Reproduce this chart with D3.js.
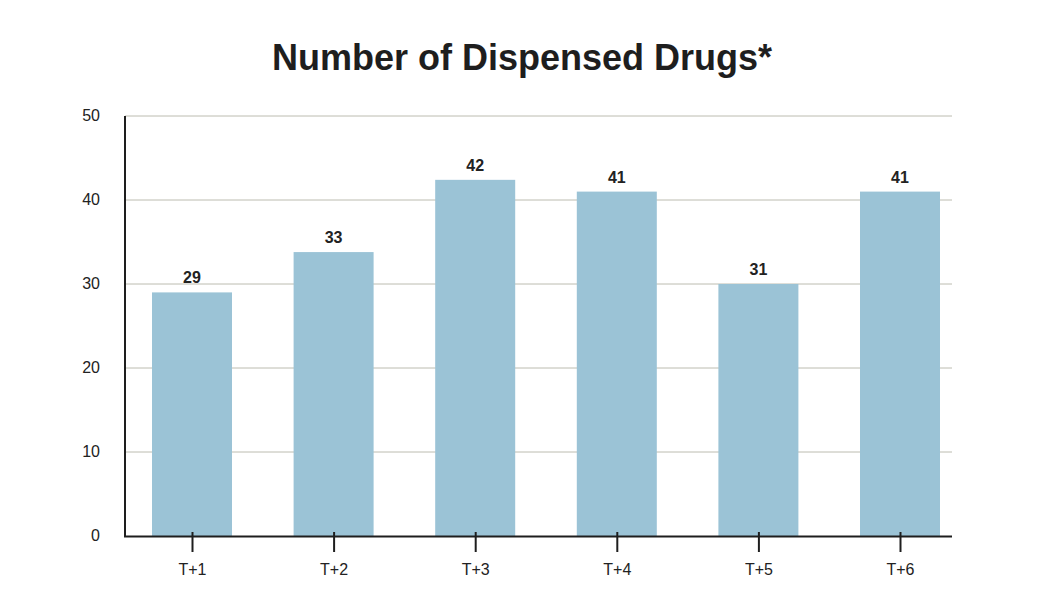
<!DOCTYPE html>
<html>
<head>
<meta charset="utf-8">
<script src="https://cdn.jsdelivr.net/npm/d3@7"></script>
<style>
  body { margin: 0; background: #fff; }
  text { font-family: "Liberation Sans", Arial, sans-serif; fill: #222; }
</style>
</head>
<body>
<div id="container"></div>
<script>
// chart data
var categories = ['T+1', 'T+2', 'T+3', 'T+4', 'T+5', 'T+6'];
var values = [29, 33.8, 42.4, 41, 30, 41];        // bar heights as drawn
var valueLabels = ['29', '33', '42', '41', '31', '41']; // labels printed above bars
var yTicks = [0, 10, 20, 30, 40, 50];

var width = 1048, height = 608;

var svg = d3.select('#container').append('svg')
  .attr('width', width)
  .attr('height', height);

var x = d3.scalePoint()
  .domain(categories)
  .range([192, 900]);

var y = d3.scaleLinear()
  .domain([0, 50])
  .range([536, 116]);

var barWidth = 80;

// title
svg.append('text')
  .attr('x', 522)
  .attr('y', 70)
  .attr('text-anchor', 'middle')
  .style('font-size', '36px')
  .style('font-weight', 'bold')
  .style('fill', '#1e1e1e')
  .text('Number of Dispensed Drugs*');

// gridlines
svg.selectAll('line.grid')
  .data(yTicks.filter(function(d) { return d > 0; }))
  .enter()
  .append('line')
  .attr('class', 'grid')
  .attr('x1', 125)
  .attr('x2', 952)
  .attr('y1', function(d) { return y(d); })
  .attr('y2', function(d) { return y(d); })
  .attr('stroke', '#bcbcb0')
  .attr('stroke-width', 1);

// bars
svg.selectAll('rect.bar')
  .data(values)
  .enter()
  .append('rect')
  .attr('class', 'bar')
  .attr('fill', '#9bc3d6')
  .attr('x', function(d, i) { return x(categories[i]) - barWidth / 2; })
  .attr('y', function(d) { return y(d); })
  .attr('width', barWidth)
  .attr('height', function(d) { return y(0) - y(d); });

// value labels
svg.selectAll('text.val')
  .data(values)
  .enter()
  .append('text')
  .attr('class', 'val')
  .attr('x', function(d, i) { return x(categories[i]); })
  .attr('y', function(d) { return y(d) - 9; })
  .attr('text-anchor', 'middle')
  .style('font-size', '16px')
  .style('font-weight', 'bold')
  .text(function(d, i) { return valueLabels[i]; });

// y axis labels
svg.selectAll('text.ytick')
  .data(yTicks)
  .enter()
  .append('text')
  .attr('class', 'ytick')
  .attr('x', 100)
  .attr('y', function(d) { return y(d) + 5; })
  .attr('text-anchor', 'end')
  .style('font-size', '16px')
  .text(function(d) { return d; });

// x axis
var xAxis = svg.append('g')
  .attr('transform', 'translate(0,536)')
  .call(d3.axisBottom(x).tickSize(16).tickSizeOuter(0).tickPadding(12));
xAxis.select('.domain').remove();
xAxis.selectAll('.tick line')
  .attr('y1', -4)
  .attr('stroke', '#1e1e1e')
  .attr('stroke-width', 2);
xAxis.selectAll('.tick text')
  .style('font-family', '"Liberation Sans", Arial, sans-serif')
  .style('font-size', '16px')
  .attr('fill', '#222');

// axis lines
svg.append('line')
  .attr('x1', 125).attr('x2', 125)
  .attr('y1', 116).attr('y2', 537)
  .attr('stroke', '#1e1e1e').attr('stroke-width', 2);
svg.append('line')
  .attr('x1', 124).attr('x2', 952)
  .attr('y1', 536.5).attr('y2', 536.5)
  .attr('stroke', '#1e1e1e').attr('stroke-width', 2);
</script>
</body>
</html>
